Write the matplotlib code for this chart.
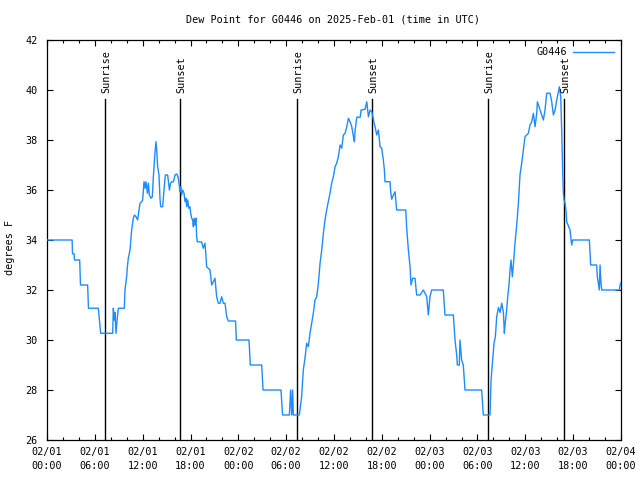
import matplotlib
matplotlib.use("Agg")
import matplotlib.pyplot as plt
import numpy as np

# ---- data (hours since 2025-02-01 00:00 UTC, dew point in F) ----
hours = [
    0, 3.15, 3.2, 3.4, 3.45, 4.1, 4.2, 5.1, 5.2, 6.44, 6.73, 8.24, 8.32, 8.45, 8.53,
    8.65, 8.82, 8.95, 9.7, 9.78, 9.99, 10.08, 10.2, 10.41, 10.54, 10.62, 10.83, 10.96,
    11.17, 11.37, 11.54, 11.67, 11.87, 12.0, 12.17, 12.29, 12.42, 12.59, 12.71, 12.84,
    13.05, 13.21, 13.34, 13.55, 13.67, 13.76, 13.88, 14.05, 14.17, 14.26, 14.51, 14.59,
    14.72, 14.84, 15.13, 15.26, 15.35, 15.51, 15.64, 15.85, 16.06, 16.27, 16.43, 16.56,
    16.68, 16.77, 16.89, 17.02, 17.19, 17.31, 17.44, 17.52, 17.65, 17.77, 17.94, 18.02,
    18.15, 18.27, 18.36, 18.44, 18.56, 18.69, 18.77, 18.86, 19.4, 19.6, 19.82, 20.03,
    20.45, 20.66, 21.07, 21.28, 21.49, 21.7, 21.91, 22.12, 22.33, 22.54, 22.75, 23.65,
    23.75, 25.34, 25.5, 26.93, 27.1, 29.35, 29.55, 30.4, 30.56, 30.69, 30.81, 30.9,
    31.65, 31.94, 32.15, 32.36, 32.57, 32.78, 32.99, 33.2, 33.41, 33.62, 33.83, 34.04,
    34.25, 34.46, 34.67, 34.87, 35.08, 35.29, 35.5, 35.71, 35.92, 36.13, 36.34, 36.55,
    36.76, 36.97, 37.18, 37.39, 37.6, 37.81, 38.02, 38.23, 38.44, 38.56, 38.65, 38.86,
    39.28, 39.4, 39.9, 40.11, 40.32, 40.53, 40.74, 40.86, 41.03, 41.15, 41.36, 41.57,
    41.78, 41.98, 42.19, 42.32, 42.4, 43.03, 43.11, 43.24, 43.45, 43.66, 43.86, 45.0,
    45.12, 45.33, 45.54, 45.66, 45.87, 46.16, 46.37, 46.79, 47.21, 47.63, 47.83, 48.04,
    48.25, 49.71, 49.92, 50.97, 51.18, 51.39, 51.47, 51.72, 51.8, 52.01, 52.22, 52.43,
    54.52, 54.73, 55.57, 55.7, 55.9, 56.07, 56.24, 56.41, 56.62, 56.83, 57.04, 57.25,
    57.37, 57.45, 57.66, 57.79, 57.95, 58.08, 58.2, 58.37, 58.5, 58.71, 58.92, 59.13,
    59.33, 59.54, 59.75, 59.96, 60.17, 60.38, 60.59, 60.8, 61.01, 61.22, 61.43, 61.51,
    61.85, 62.05, 62.26, 62.47, 62.68, 63.1, 63.31, 63.52, 63.73, 63.94, 64.15, 64.27,
    64.44, 64.57, 64.69, 64.77, 64.86, 64.98, 65.11, 65.19, 65.61, 65.74, 65.82, 65.94,
    68.03, 68.2, 68.95, 69.03, 69.28, 69.37, 69.49, 69.58, 71.8, 71.88, 72.0,
]
dewpoint = [
    34.0, 34.0, 33.45, 33.45, 33.2, 33.2, 32.2, 32.2, 31.27, 31.27, 30.27, 30.27, 31.27,
    30.8, 31.1, 30.27, 30.9, 31.27, 31.27, 32.0, 32.53, 32.93, 33.27, 33.6, 34.07, 34.4,
    34.87, 35.0, 34.93, 34.8, 35.2, 35.47, 35.53, 35.6, 36.33, 36.07, 36.33, 35.87, 36.27,
    35.8, 35.67, 35.73, 36.53, 37.53, 37.93, 37.6, 36.93, 36.6, 35.67, 35.33, 35.33, 35.67,
    36.13, 36.6, 36.6, 36.27, 36.0, 36.27, 36.33, 36.33, 36.6, 36.64, 36.53, 36.27, 35.93,
    36.13, 35.8, 36.0, 35.87, 35.53, 35.67, 35.33, 35.6, 35.27, 35.33, 35.07, 34.87, 34.8,
    34.53, 34.87, 34.6, 34.87, 34.13, 33.93, 33.92, 33.67, 33.87, 32.93, 32.8, 32.2, 32.47,
    31.73, 31.47, 31.47, 31.73, 31.47, 31.47, 30.93, 30.76, 30.76, 30.0, 30.0, 29.0, 29.0,
    28.0, 28.0, 27.0, 27.0, 28.0, 27.0, 28.0, 27.0, 27.0, 27.73, 28.8, 29.27, 29.87, 29.73,
    30.27, 30.67, 31.07, 31.6, 31.73, 32.27, 33.07, 33.6, 34.27, 34.8, 35.2, 35.53, 35.87,
    36.27, 36.53, 36.93, 37.07, 37.33, 37.8, 37.67, 38.2, 38.27, 38.53, 38.87, 38.73, 38.53,
    38.13, 37.93, 38.4, 38.91, 38.91, 39.2, 39.23, 39.53, 38.93, 39.2, 39.13, 38.96, 38.67,
    38.53, 38.2, 38.4, 37.73, 37.67, 37.2, 36.8, 36.33, 36.33, 35.93, 35.63, 35.8, 35.93,
    35.2, 35.2, 34.47, 33.6, 32.93, 32.2, 32.47, 32.47, 31.8, 31.8, 32.0, 31.73, 31.0, 31.73,
    32.0, 32.0, 31.0, 31.0, 30.0, 29.4, 29.0, 29.0, 30.0, 29.2, 29.0, 28.0, 28.0, 27.0,
    27.0, 28.4, 29.2, 29.87, 30.13, 30.93, 31.3, 31.1, 31.47, 31.1, 30.27, 30.6, 31.2,
    31.73, 32.2, 32.8, 33.2, 32.53, 33.0, 33.9, 34.6, 35.47, 36.6, 37.07, 37.6, 38.13,
    38.2, 38.27, 38.6, 38.73, 39.07, 38.53, 39.07, 39.53, 39.2, 39.0, 38.8, 39.2, 39.87,
    39.87, 39.53, 39.0, 39.2, 39.6, 39.93, 40.13, 39.73, 38.27, 36.67, 35.87, 35.6, 35.47,
    35.15, 34.73, 34.4, 34.0, 33.8, 34.0, 34.0, 33.0, 33.0, 32.53, 32.0, 33.0, 32.27, 32.0,
    32.0, 32.2, 32.3,
]
sunrise_hours = [7.32, 31.38, 55.36]
sunset_hours = [16.73, 40.80, 64.88]
xtick_hours = [0, 6, 12, 18, 24, 30, 36, 42, 48, 54, 60, 66, 72]
xtick_labels = ["02/01\n00:00", "02/01\n06:00", "02/01\n12:00", "02/01\n18:00",
                "02/02\n00:00", "02/02\n06:00", "02/02\n12:00", "02/02\n18:00",
                "02/03\n00:00", "02/03\n06:00", "02/03\n12:00", "02/03\n18:00",
                "02/04\n00:00"]
yticks = [26, 28, 30, 32, 34, 36, 38, 40, 42]

# ---- figure ----
W, H = 640, 480
fig = plt.figure(figsize=(6.4, 4.8), dpi=100)
plt.rcParams['font.family'] = ['DejaVu Sans Mono']
FS = 7.3
L, R, T, B = 47, 621, 40, 440
ax = fig.add_axes([L / W, 1 - B / H, (R - L) / W, (B - T) / H])

ax.plot(hours, dewpoint, color='#1e8cff', lw=1.0, label='G0446', zorder=3)

# sunrise / sunset lines
line_top = 42 - (99 - T) / (B - T) * 16
text_y = 42 - (93 - T) / (B - T) * 16
for h in sunrise_hours:
    ax.plot([h, h], [26, line_top], color='black', lw=1.0, zorder=2)
    ax.text(h + 0.12, text_y, 'Sunrise', rotation=90, ha='center', va='bottom',
            fontsize=FS, color='black')
for h in sunset_hours:
    ax.plot([h, h], [26, line_top], color='black', lw=1.0, zorder=2)
    ax.text(h + 0.12, text_y, 'Sunset', rotation=90, ha='center', va='bottom',
            fontsize=FS, color='black')

ax.set_xlim(0, 72)
ax.set_ylim(26, 42)
ax.set_xticks(xtick_hours)
ax.set_xticklabels(xtick_labels, fontsize=FS, linespacing=1.45)
ax.set_xticks(np.arange(0, 73, 2), minor=True)
ax.set_yticks(yticks)
ax.set_yticklabels([str(v) for v in yticks], fontsize=FS)
ax.tick_params(axis='both', which='major', direction='in', length=4, width=0.8,
               top=True, right=True, pad=5)
ax.tick_params(axis='x', which='minor', direction='in', length=2.2, width=0.8,
               top=True, bottom=True)
ax.tick_params(axis='y', which='major', pad=7)
for s in ax.spines.values():
    s.set_linewidth(0.9)
    s.set_color('black')

fig.text(333 / W, 1 - 20 / H, 'Dew Point for G0446 on 2025-Feb-01 (time in UTC)',
         ha='center', va='center', fontsize=FS)
fig.text(10 / W, 1 - 247 / H, 'degrees F', rotation=90, ha='center', va='center',
         fontsize=FS)

leg = ax.legend(loc='upper right', frameon=False, fontsize=FS, handlelength=4.0,
                handletextpad=0.6, markerfirst=False, borderaxespad=0.3,
                bbox_to_anchor=(1.0, 1.0))

fig.savefig('out.png', dpi=100)
